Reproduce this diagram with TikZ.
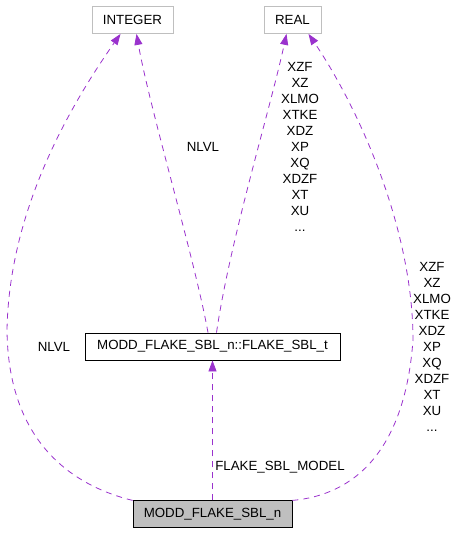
\documentclass[tikz,border=0pt]{standalone}
\usepackage{fontspec}
\setmainfont{Liberation Sans}
\usetikzlibrary{arrows.meta, positioning}
\definecolor{relcol}{HTML}{9A32CD}
\definecolor{boxgray}{HTML}{BFBFBF}
\tikzset{
  every picture/.style={line width=0.8pt},
  every node/.style={font=\fontsize{13.3}{16}\selectfont},
  tbox/.style={draw, rectangle, minimum height=27pt, inner sep=0pt},
  ebox/.style={tbox, draw=boxgray},
  rel/.style={draw=relcol, dash pattern=on 6pt off 5pt, -{Triangle[length=11pt, width=8pt]}},
  lbl/.style={align=center, inner sep=0pt}
}

\begin{document}
\begin{tikzpicture}[x=1pt, y=-1pt]
    \useasboundingbox (0,0) rectangle (459,533);

    \node [ebox, minimum width=81pt] (integer) at (132.5,20) {INTEGER};
    \node [ebox, minimum width=57pt] (real) at (292.5,20) {REAL};

    \node [tbox, minimum width=255pt] (flaket) at (212.5,346.5) {MODD\_FLAKE\_SBL\_n::FLAKE\_SBL\_t};
    \node [tbox, fill=boxgray, minimum width=159pt, below=140pt of flaket] (modd) {MODD\_FLAKE\_SBL\_n};

    \node [lbl] (l1) at (54,347) {NLVL};
    \node [lbl] (l2) at (203,147) {NLVL};
    \node [lbl] (l3) at (300,147) {XZF\\XZ\\XLMO\\XTKE\\XDZ\\XP\\XQ\\XDZF\\XT\\XU\\...};
    \node [lbl] (l4) at (432,347) {XZF\\XZ\\XLMO\\XTKE\\XDZ\\XP\\XQ\\XDZF\\XT\\XU\\...};
    \node [lbl] (l5) at (280,467) {FLAKE\_SBL\_MODEL};

    \draw [rel] (modd.north west) .. controls (70,485) and (8,440) .. (7,330)
        .. controls (9,220) and (60,120) .. ([xshift=-12pt]integer.south);
    \draw [rel] ([xshift=-4.5pt]flaket.north) .. controls (195,260) and (150,110) .. ([xshift=4pt]integer.south);

    \draw [rel] ([xshift=4pt]flaket.north) .. controls (230,240) and (270,110) .. ([xshift=-6pt]real.south);
    \draw [rel] (modd.north east) .. controls (355,495) and (405,450) .. (413,340)
        .. controls (413,230) and (360,110) .. ([xshift=16pt]real.south);

    \draw [rel] (modd.north) -- (flaket.south);
\end{tikzpicture}
\end{document}
